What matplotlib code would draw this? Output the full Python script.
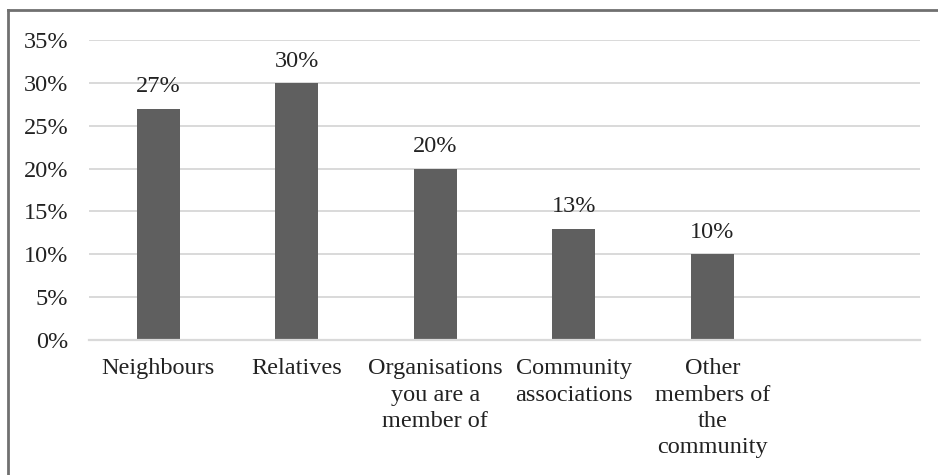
import matplotlib.pyplot as plt
from matplotlib.lines import Line2D

plt.rcParams['font.family'] = ['Liberation Serif', 'DejaVu Serif']

categories = ['Neighbours', 'Relatives', 'Organisations\nyou are a\nmember of',
              'Community\nassociations', 'Other\nmembers of\nthe\ncommunity', '']
shares = [27, 30, 20, 13, 10, None]
y_ticks = [0, 5, 10, 15, 20, 25, 30, 35]

fig = plt.figure(figsize=(9.38, 4.75), dpi=100)
ax = fig.add_axes([0.0949, 0.2842, 0.8859, 0.6316])

x = list(range(len(categories)))
vals = [v for v in shares if v is not None]
xs = x[:len(vals)]
bars = ax.bar(xs, vals, width=0.31, color='#5f5f5f', zorder=3)
for b, v in zip(bars, vals):
    ax.text(b.get_x() + b.get_width() / 2, v + 1.3, f'{v}%', ha='center', va='bottom',
            fontsize=17.5, color='#222222')

ax.set_xlim(-0.5, len(categories) - 0.5)
ax.set_ylim(0, 35)
ax.set_yticks(y_ticks)
ax.set_yticklabels([f'{t}%' for t in y_ticks])
ax.set_xticks(x)
ax.set_xticklabels(categories, linespacing=1.34)
ax.tick_params(axis='both', length=0, labelsize=17.5, labelcolor='#222222')
ax.tick_params(axis='x', pad=13)
ax.tick_params(axis='y', pad=15)
ax.grid(axis='y', color='#d9d9d9', linewidth=1.4, zorder=0)
for s in ['top', 'right', 'left']:
    ax.spines[s].set_visible(False)
ax.spines['bottom'].set_color('#d9d9d9')
ax.spines['bottom'].set_linewidth(1.6)
ax.spines['bottom'].set_zorder(4)

# frame lines along the top and left edge
fig.add_artist(Line2D([0.0085, 1.0], [0.978, 0.978], transform=fig.transFigure,
                      color='#707070', linewidth=2))
fig.add_artist(Line2D([0.0085, 0.0085], [0.0, 0.978], transform=fig.transFigure,
                      color='#707070', linewidth=2))

fig.savefig('out.png', dpi=100, facecolor='white')
